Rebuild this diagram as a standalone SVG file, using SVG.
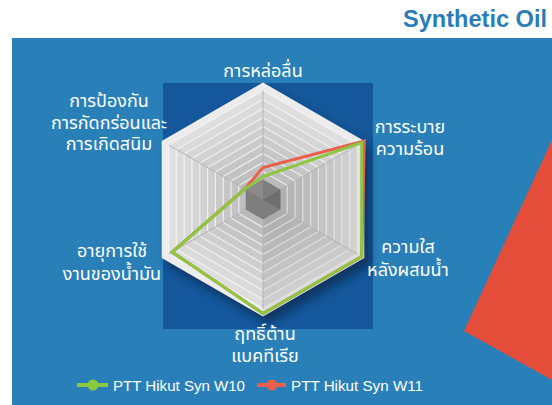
<svg xmlns="http://www.w3.org/2000/svg" width="552" height="405" viewBox="0 0 552 405">
<defs>
<style>
.lbl{font-family:"Noto Sans Thai","Noto Sans Thai UI","Loma","Noto Sans","DejaVu Sans",sans-serif;font-size:18px;fill:#ffffff;text-anchor:middle}
.leg{font-family:"Liberation Sans","DejaVu Sans",sans-serif;font-size:14.5px;fill:#ffffff}
.ring{stroke:#f4f4f4;stroke-width:1.2;stroke-opacity:0.85}
.spoke{stroke:#b4b4b4;stroke-width:1}
.data{fill:none;stroke-width:3;stroke-linejoin:miter}
</style>
<filter id="blur" x="-20%" y="-20%" width="140%" height="140%"><feGaussianBlur stdDeviation="4"/></filter>
</defs>
<rect width="552" height="405" fill="#ffffff"/>
<rect x="12" y="38" width="540" height="367" fill="#2980b9"/>
<polygon points="552,140 464,331 552,380" fill="#e44d3a"/>
<text x="403" y="27" font-family="'Liberation Sans',sans-serif" font-weight="bold" font-size="23" fill="#2a7db8" textLength="144" lengthAdjust="spacingAndGlyphs">Synthetic Oil</text>
<rect x="163" y="83" width="210" height="246" fill="#14579a"/>

<g id="radar">
<polygon points="268,89.5 370.3,148 370.3,265 268,323.5 166.7,265 166.7,148" fill="#082a50" opacity="0.75" filter="url(#blur)"/>
<polygon points="263,82.5 364.3,141 364.3,258 263,316.5 161.7,258 161.7,141" fill="#ececec"/>
<polygon class="ring" points="263,90.5 357.4,145 357.4,254 263,308.5 168.6,254 168.6,145" fill="#dedede"/>
<polygon class="ring" points="263,99.5 349.6,149.5 349.6,249.5 263,299.5 176.4,249.5 176.4,149.5" fill="#dadada"/>
<polygon class="ring" points="263,108.5 341.8,154 341.8,245 263,290.5 184.2,245 184.2,154" fill="#d6d6d6"/>
<polygon class="ring" points="263,117.5 334,158.5 334,240.5 263,281.5 192,240.5 192,158.5" fill="#d2d2d2"/>
<polygon class="ring" points="263,126.5 326.2,163 326.2,236 263,272.5 199.8,236 199.8,163" fill="#cecece"/>
<polygon class="ring" points="263,135.5 318.4,167.5 318.4,231.5 263,263.5 207.6,231.5 207.6,167.5" fill="#cacaca"/>
<polygon class="ring" points="263,144.5 310.6,172 310.6,227 263,254.5 215.4,227 215.4,172" fill="#c6c6c6"/>
<polygon class="ring" points="263,153.5 302.8,176.5 302.8,222.5 263,245.5 223.2,222.5 223.2,176.5" fill="#c2c2c2"/>
<polygon class="ring" points="263,162.5 295,181 295,218 263,236.5 231,218 231,181" fill="#bebebe"/>
<polygon class="ring" points="263,171.5 287.2,185.5 287.2,213.5 263,227.5 238.8,213.5 238.8,185.5" fill="#bababa"/>
<polygon points="263,199.5 364.3,141 364.3,258" fill="#000000" opacity="0.05"/>
<polygon points="263,199.5 364.3,258 263,316.5" fill="#000000" opacity="0.07"/>
<polygon points="263,199.5 161.7,258 161.7,141" fill="#ffffff" opacity="0.08"/>
<line class="spoke" x1="263" y1="90.5" x2="263" y2="308.5"/>
<line class="spoke" x1="168.6" y1="145" x2="357.4" y2="254"/>
<line class="spoke" x1="168.6" y1="254" x2="357.4" y2="145"/>
<polygon points="263,179.5 280.3,189.5 280.3,209.5 263,219.5 245.7,209.5 245.7,189.5" fill="#7e7e7e"/>
<polygon points="263,199.5 280.3,189.5 280.3,209.5" fill="#6e6e6e"/>
<polygon points="263,199.5 263,179.5 245.7,189.5" fill="#8a8a8a"/>
</g>

<g id="connectors">
<polyline class="data" stroke="#e8604c" points="244.8,189 263,167.5 364.3,141 361.7,256.5 263,313.5 172.1,252 244.8,189"/>
<polyline class="data" stroke="#8dc63f" points="244.8,189 263,176.5 361.7,142.5 361.7,256.5 263,313.5 172.1,252 244.8,189"/>
</g>

<g id="label-lubrication"><text class="lbl" x="263" y="77">การหล่อลื่น</text></g>
<g id="label-cooling"><text class="lbl" x="410" y="133">การระบาย<tspan x="410" dy="22">ความร้อน</tspan></text></g>
<g id="label-clarity"><text class="lbl" x="408" y="253">ความใส<tspan x="408" dy="23">หลังผสมน้ำ</tspan></text></g>
<g id="label-antibacterial"><text class="lbl" x="265" y="340">ฤทธิ์ต้าน<tspan x="265" dy="22">แบคทีเรีย</tspan></text></g>
<g id="label-life"><text class="lbl" x="112" y="257">อายุการใช้<tspan x="112" dy="23">งานของน้ำมัน</tspan></text></g>
<g id="label-protection"><text class="lbl" x="109" y="107">การป้องกัน<tspan x="109" dy="21.5">การกัดกร่อนและ</tspan><tspan x="109" dy="21">การเกิดสนิม</tspan></text></g>

<g id="legend">
<line x1="77" y1="385" x2="108" y2="385" stroke="#8dc63f" stroke-width="4"/>
<circle cx="93" cy="385" r="5.5" fill="#8dc63f"/>
<text class="leg" x="113" y="391" textLength="132" lengthAdjust="spacingAndGlyphs">PTT Hikut Syn W10</text>
<line x1="257" y1="385" x2="286" y2="385" stroke="#e8604c" stroke-width="4"/>
<circle cx="272" cy="385" r="5.5" fill="#e8604c"/>
<text class="leg" x="291" y="391" textLength="132" lengthAdjust="spacingAndGlyphs">PTT Hikut Syn W11</text>
</g>
</svg>
